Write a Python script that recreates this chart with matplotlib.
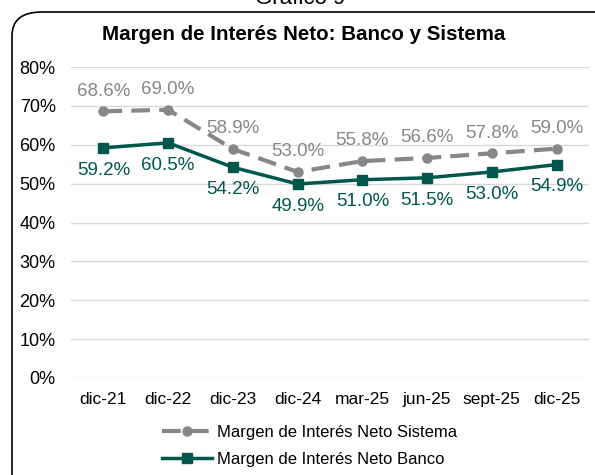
import matplotlib
matplotlib.use("Agg")
import matplotlib.pyplot as plt
from matplotlib.patches import FancyBboxPatch
from matplotlib.ticker import FuncFormatter

plt.rcParams['font.family'] = ['Liberation Sans', 'DejaVu Sans']

categories = ["dic-21", "dic-22", "dic-23", "dic-24", "mar-25", "jun-25", "sept-25", "dic-25"]
sistema = [68.6, 69.0, 58.9, 53.0, 55.8, 56.6, 57.8, 59.0]
banco = [59.2, 60.5, 54.2, 49.9, 51.0, 51.5, 53.0, 54.9]
y_ticks = [0, 10, 20, 30, 40, 50, 60, 70, 80]

W, H = 595, 475
fig = plt.figure(figsize=(W / 100, H / 100), dpi=100)

# rounded frame
frame = FancyBboxPatch((12 / W, -0.1), 1.2, (H - 12) / H + 0.1,
                       boxstyle="round,pad=0,rounding_size=0.05",
                       transform=fig.transFigure, fill=False,
                       edgecolor="black", linewidth=1.2, clip_on=False)
fig.patches.append(frame)

fig.text(300 / W, 1 + 1 / H, "Gráfico 9", ha="center", va="center", fontsize=16, color="black")
fig.text(304 / W, 1 - 35 / H, "Margen de Interés Neto: Banco y Sistema",
         ha="center", va="center", fontsize=14.8, fontweight="bold")

ax = fig.add_axes([71 / W, 1 - 378 / H, (589 - 71) / W, (378 - 67) / H])
x = list(range(len(categories)))
gray = "#878787"
green = "#00574B"
ax.plot(x, sistema, color=gray, linestyle=(0, (4.5, 2.2)), linewidth=3, marker="o",
        markersize=6.5, label="Margen de Interés Neto Sistema", zorder=3)
ax.plot(x, banco, color=green, linewidth=2.5, marker="s", markersize=6.5,
        label="Margen de Interés Neto Banco", zorder=3)

for xi, v in zip(x, sistema):
    ax.annotate(f"{v:.1f}%", (xi, v), xytext=(0, 14.5), textcoords="offset points",
                ha="center", va="center", fontsize=13.5, color=gray)
for xi, v in zip(x, banco):
    ax.annotate(f"{v:.1f}%", (xi, v), xytext=(0, -16), textcoords="offset points",
                ha="center", va="center", fontsize=13.5, color=green)

ax.set_xlim(-0.5, len(categories) - 0.5)
ax.set_ylim(0, 80)
ax.set_yticks(y_ticks)
ax.yaxis.set_major_formatter(FuncFormatter(lambda v, p: f"{v:.0f}%"))
ax.set_xticks(x)
ax.set_xticklabels(categories)
ax.tick_params(axis="y", length=0, labelsize=13, colors="black", pad=11)
ax.tick_params(axis="x", length=0, labelsize=12.5, colors="black", pad=10)
ax.grid(axis="y", color="#d9d9d9", linewidth=1)
ax.set_axisbelow(True)
for s in ax.spines.values():
    s.set_visible(False)

leg = fig.legend(loc="center", bbox_to_anchor=(310 / W, 1 - 446 / H), ncol=1,
                 frameon=False, fontsize=12, handlelength=3, handletextpad=0.3,
                 labelspacing=0.75)

fig.savefig("out.png", dpi=100)
